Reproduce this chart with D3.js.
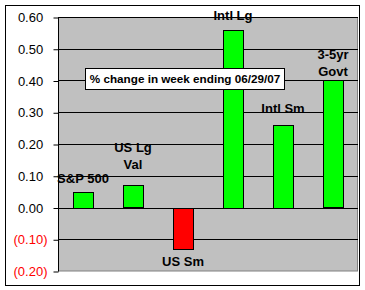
<!DOCTYPE html>
<html>
<head>
<meta charset="utf-8">
<script src="https://cdn.jsdelivr.net/npm/d3@7"></script>
<style>
  body { margin: 0; background: #fff; }
  svg { display: block; font-family: Arial, "Liberation Sans", sans-serif; }
</style>
</head>
<body>
<div id="chart"></div>
<script>
// data
var categories = ["S&P 500", "US Lg Val", "US Sm", "Intl Lg", "Intl Sm", "3-5yr Govt"];
var labelLines = [["S&P 500"], ["US Lg", "Val"], ["US Sm"], ["Intl Lg"], ["Intl Sm"], ["3-5yr", "Govt"]];
var values = [0.05, 0.07, -0.13, 0.56, 0.26, 0.40];
var tickValues = [-0.2, -0.1, 0, 0.1, 0.2, 0.3, 0.4, 0.5, 0.6];
var title = "% change in week ending 06/29/07";

// small hand nudges for the data labels (px, negative = up)
var labelNudge = [0, -7, 1, -1, -3, 4];

const width = 365, height = 290;
const margin = { top: 17, right: 7, bottom: 19, left: 58 };

var svg = d3.select("#chart")
  .append("svg")
  .attr("width", width)
  .attr("height", height);

// outer chart border
svg.append("rect")
  .attr("x", 5.5).attr("y", 5.5)
  .attr("width", 354).attr("height", 280)
  .attr("fill", "#fff")
  .attr("stroke", "#000");

const x = d3.scaleBand()
  .domain(categories)
  .range([margin.left, width - margin.right])
  .paddingInner(0.6)
  .paddingOuter(0.3);

const y = d3.scaleLinear()
  .domain([-0.2, 0.6])
  .range([height - margin.bottom, margin.top]);

// plot area
svg.append("rect")
  .attr("x", margin.left + 0.5)
  .attr("y", margin.top + 0.5)
  .attr("width", width - margin.left - margin.right - 1)
  .attr("height", height - margin.top - margin.bottom - 0.5)
  .attr("fill", "#c0c0c0")
  .attr("stroke", "#808080");

// gridlines
svg.append("g")
  .selectAll("line")
  .data(tickValues.filter(d => d > -0.2))
  .enter()
  .append("line")
  .attr("x1", margin.left)
  .attr("x2", width - margin.right)
  .attr("y1", d => Math.round(y(d)) + 0.5)
  .attr("y2", d => Math.round(y(d)) + 0.5)
  .attr("stroke", "#000");

// y axis
var fmt = d3.format(".2f");
var yAxis = svg.append("g")
  .attr("transform", "translate(" + (margin.left + 0.5) + ",0.5)")
  .call(d3.axisLeft(y)
    .tickValues(tickValues)
    .tickSize(5)
    .tickPadding(6)
    .tickFormat(d => d < 0 ? "(" + fmt(-d) + ")" : fmt(d)));

yAxis.select(".domain").attr("stroke", "#000").attr("d", "M0," + (margin.top - 0.5) + "V" + (height - margin.bottom));
yAxis.selectAll(".tick line").attr("stroke", "#000");
yAxis.selectAll(".tick text")
  .attr("font-size", 13)
  .attr("font-family", "Arial, 'Liberation Sans', sans-serif")
  .attr("fill", d => d < 0 ? "#ff0000" : "#000")
  .attr("dx", d => d < 0 ? 0 : -4.3);

// bars
svg.append("g")
  .selectAll("rect")
  .data(values)
  .enter()
  .append("rect")
  .attr("x", (d, i) => Math.round(x(categories[i])) + 0.5)
  .attr("y", d => Math.round(y(Math.max(0, d))) + 0.5)
  .attr("width", x.bandwidth())
  .attr("height", d => Math.round(Math.abs(y(d) - y(0))))
  .attr("fill", d => d < 0 ? "#ff0000" : "#00ff00")
  .attr("stroke", "#000");

// data labels
var labels = svg.append("g")
  .selectAll("text")
  .data(values)
  .enter()
  .append("text")
  .attr("text-anchor", "middle")
  .attr("font-size", 13)
  .attr("font-weight", "bold")
  .attr("fill", "#000")
  .attr("transform", (d, i) => {
    var n = labelLines[i].length;
    var cx = x(categories[i]) + x.bandwidth() / 2;
    var base = d < 0 ? y(d) + 16 : y(d) - 9 - (n - 1) * 17;
    return "translate(" + cx + "," + (base + labelNudge[i]) + ")";
  });

labels.selectAll("tspan")
  .data((d, i) => labelLines[i])
  .enter()
  .append("tspan")
  .attr("x", 0)
  .attr("dy", (d, j) => j === 0 ? 0 : 17)
  .text(d => d);

// title box
var tb = svg.append("g");
tb.append("rect")
  .attr("x", 85.5).attr("y", 68.5)
  .attr("width", 199).attr("height", 21)
  .attr("fill", "#fff")
  .attr("stroke", "#000");
tb.append("text")
  .attr("x", 185).attr("y", 82.5)
  .attr("text-anchor", "middle")
  .attr("font-size", 11.7)
  .attr("font-weight", "bold")
  .text(title);
</script>
</body>
</html>
